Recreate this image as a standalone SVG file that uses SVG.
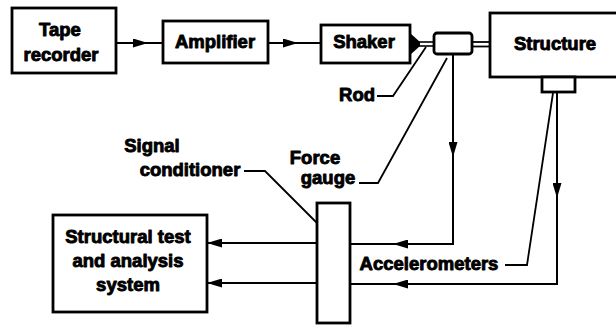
<svg xmlns="http://www.w3.org/2000/svg" width="616" height="325" viewBox="0 0 616 325">
<style>
  .box { fill: #fff; stroke: #000; stroke-width: 2.8; }
  .ln { fill: none; stroke: #000; stroke-width: 2; }
  .ld { fill: none; stroke: #000; stroke-width: 1.8; }
  .t { font-family: "Liberation Sans", Arial, sans-serif; font-weight: bold; font-size: 18.5px; fill: #000; stroke: #000; stroke-width: 0.9; stroke-linejoin: round; text-anchor: middle; }
  .ah { fill: #000; }
</style>
<defs>
  <marker id="arr" viewBox="0 0 15 9" refX="15" refY="4.5" markerWidth="15" markerHeight="9" markerUnits="userSpaceOnUse" orient="auto">
    <path d="M0,0 L15,4.5 L0,9 Z" class="ah"/>
  </marker>
</defs>
<rect width="616" height="325" fill="#fff"/>

<g id="connectors">
  <!-- Tape recorder -> Amplifier -->
  <line class="ln" x1="116" y1="43" x2="163" y2="43"/>
  <line class="ln" x1="116" y1="43" x2="148" y2="43" marker-end="url(#arr)"/>
  <!-- Amplifier -> Shaker -->
  <line class="ln" x1="268" y1="43" x2="321" y2="43"/>
  <line class="ln" x1="268" y1="43" x2="298" y2="43" marker-end="url(#arr)"/>
  <!-- Shaker tip and rod -->
  <path d="M410,33 L420,42 L420,46 L410,55 Z" fill="#000"/>
  <line x1="419" y1="42" x2="434" y2="42" stroke="#000" stroke-width="1.6"/>
  <line x1="419" y1="46" x2="434" y2="46" stroke="#000" stroke-width="1.6"/>
  <!-- Gauge -> Structure rod -->
  <line x1="472" y1="42" x2="490" y2="42" stroke="#000" stroke-width="1.8"/>
  <line x1="472" y1="46.5" x2="490" y2="46.5" stroke="#000" stroke-width="1.8"/>
  <!-- Force gauge signal -->
  <polyline class="ln" points="453,55 453,244 350,244"/>
  <line class="ln" x1="453" y1="55" x2="453" y2="157" marker-end="url(#arr)"/>
  <line class="ln" x1="453" y1="244" x2="393" y2="244" marker-end="url(#arr)"/>
  <!-- Accelerometer signal -->
  <polyline class="ln" points="557,93 557,284 350,284"/>
  <line class="ln" x1="557" y1="93" x2="557" y2="198" marker-end="url(#arr)"/>
  <line class="ln" x1="557" y1="284" x2="393" y2="284" marker-end="url(#arr)"/>
  <!-- Signal conditioner -> Structural test -->
  <line class="ln" x1="317" y1="243" x2="207" y2="243" marker-end="url(#arr)"/>
  <line class="ln" x1="317" y1="283" x2="207" y2="283" marker-end="url(#arr)"/>
  <!-- Leader lines -->
  <polyline class="ld" points="377,96 393,96 426,47"/>
  <polyline class="ld" points="359,183 378,183 447,58"/>
  <polyline class="ld" points="244,171 265,171 317,223"/>
  <polyline class="ld" points="505,265 527,265 553,93"/>
</g>

<g id="tape-recorder">
  <rect class="box" x="12" y="8" width="104" height="65"/>
  <text class="t" x="60" y="36">Tape</text>
  <text class="t" x="61" y="61">recorder</text>
</g>

<g id="amplifier">
  <rect class="box" x="163" y="21" width="105" height="42"/>
  <text class="t" x="215" y="48">Amplifier</text>
</g>

<g id="shaker">
  <rect class="box" x="321" y="25" width="89" height="38"/>
  <text class="t" x="364" y="48">Shaker</text>
</g>

<g id="force-gauge">
  <rect class="box" x="434" y="33" width="38" height="21" rx="3"/>
</g>

<g id="structure">
  <rect class="box" x="490" y="13" width="140" height="64"/>
  <text class="t" x="555" y="50">Structure</text>
</g>

<g id="accelerometer">
  <rect class="box" x="542" y="77" width="33" height="15"/>
</g>

<g id="signal-conditioner">
  <rect class="box" x="317" y="203" width="33" height="120"/>
</g>

<g id="structural-test">
  <rect class="box" x="53" y="215" width="154" height="97"/>
  <text class="t" x="128" y="243">Structural test</text>
  <text class="t" x="128" y="267">and analysis</text>
  <text class="t" x="128" y="291">system</text>
</g>

<g id="labels">
  <text class="t" x="357" y="101">Rod</text>
  <text class="t" x="315" y="164">Force</text>
  <text class="t" x="328" y="184">gauge</text>
  <text class="t" x="152" y="152">Signal</text>
  <text class="t" x="190" y="176">conditioner</text>
  <text class="t" x="429" y="270">Accelerometers</text>
</g>
</svg>
